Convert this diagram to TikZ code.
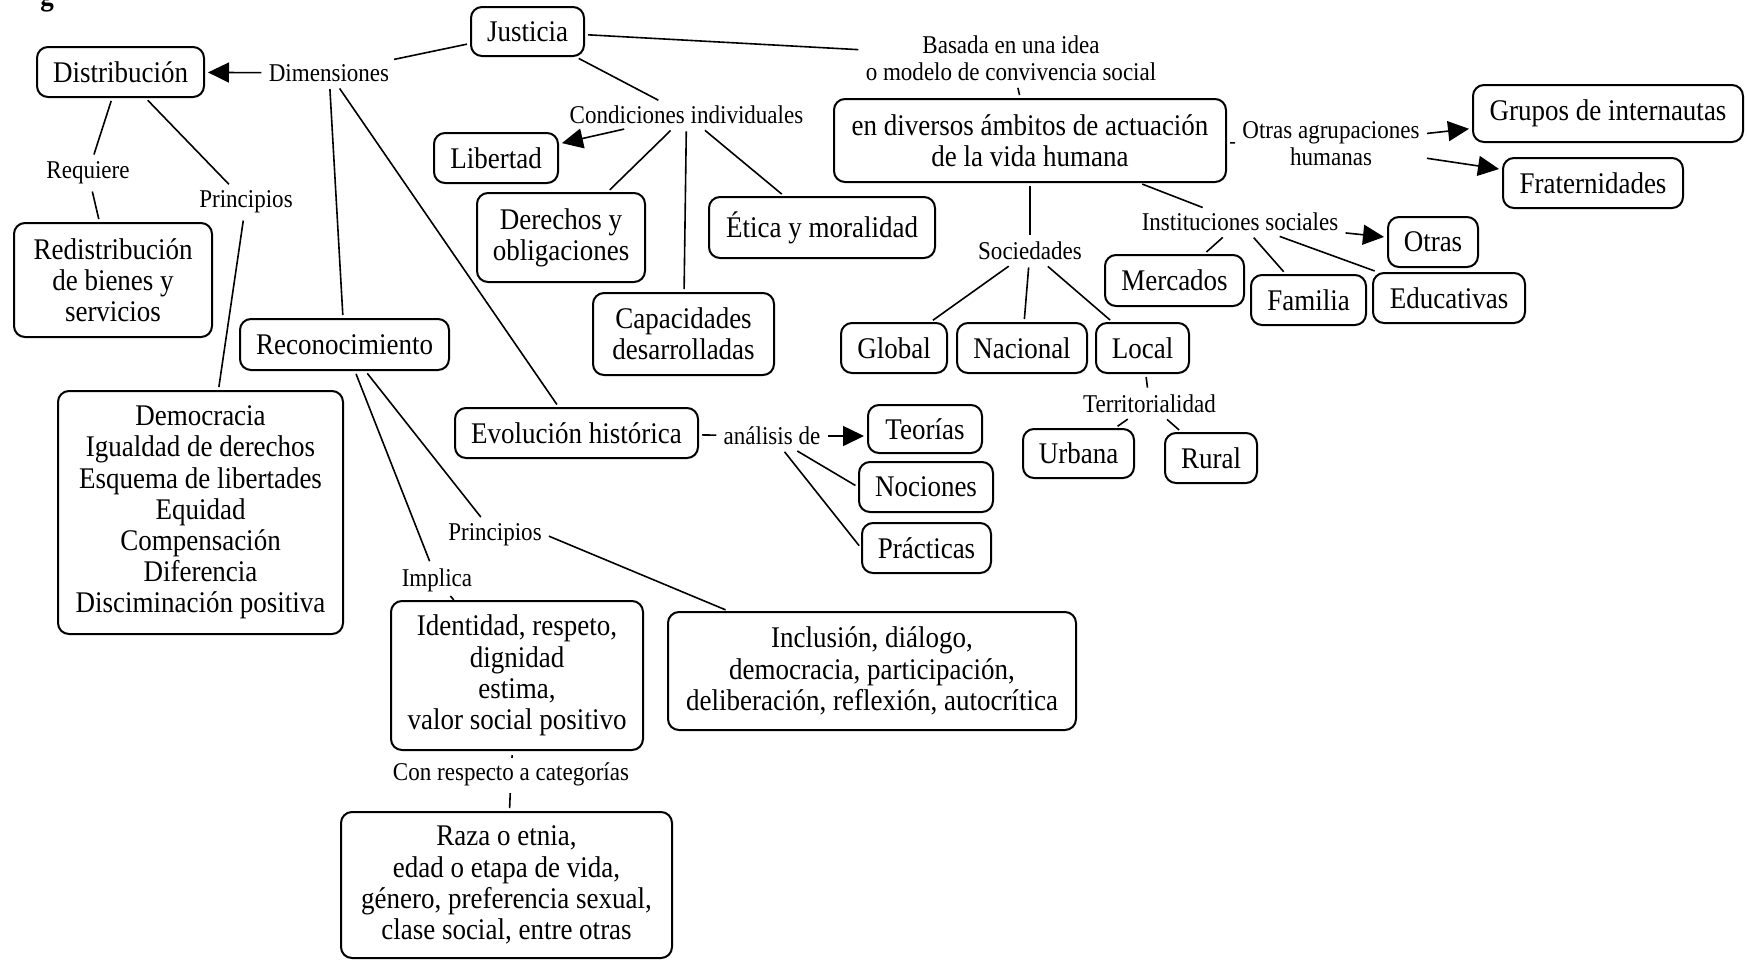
\documentclass[tikz,border=0pt]{standalone}
\usepackage{fontspec}
\setmainfont{Liberation Serif}[FakeStretch=0.9]
\usetikzlibrary{arrows.meta}
\tikzset{
  box/.style={draw, line width=1pt, rounded corners=5.5pt, align=center,
    inner sep=2pt, font=\fontsize{15}{15.6}\selectfont},
  lbl/.style={inner sep=2pt, align=center, font=\fontsize{12.8}{13.5}\selectfont},
  link/.style={line width=0.8pt, shorten <=1.5pt, shorten >=1.5pt},
  tick/.style={line width=0.8pt},
  arr/.style={link, -{Triangle[length=10.5pt,width=10pt]}},
}
% box given by its name, top-left and bottom-right corners, and its text
\newcommand\mapbox[6]{%
  \node[box, minimum width={(#4-#2)*0.5pt}, minimum height={(#5-#3)*0.5pt}]
    (#1) at ({(#2+#4)/2},{(#3+#5)/2}) {#6};}
\begin{document}
\begin{tikzpicture}[x=0.5pt, y=-0.5pt]
\useasboundingbox (0,0) rectangle (1747,960);
\clip (0,0) rectangle (1747,960);

% caption remnant at the upper edge
\node[anchor=base west, inner sep=0, font=\fontsize{15}{18}\bfseries] (cap0) at (40,5) {g};

% concept boxes
\mapbox{just}{471}{7}{584}{56}{Justicia}
\mapbox{dist}{37}{47}{204}{97}{Distribución}
\mapbox{redis}{14}{223}{212}{337}{Redistribución\\de bienes y\\servicios}
\mapbox{demo}{58}{391}{343}{634}{Democracia\\Igualdad de derechos\\Esquema de libertades\\Equidad\\Compensación\\Diferencia\\Disciminación positiva}
\mapbox{recon}{240}{319}{449}{370}{Reconocimiento}
\mapbox{evo}{455}{408}{698}{458}{Evolución histórica}
\mapbox{teo}{868}{405}{982}{453}{Teorías}
\mapbox{noc}{859}{462}{993}{512}{Nociones}
\mapbox{prac}{862}{523}{991}{573}{Prácticas}
\mapbox{ident}{391}{601}{643}{750}{Identidad, respeto,\\dignidad\\estima,\\valor social positivo}
\mapbox{incl}{668}{612}{1076}{730}{Inclusión, diálogo,\\democracia, participación,\\deliberación, reflexión, autocrítica}
\mapbox{raza}{341}{812}{672}{958}{Raza o etnia,\\edad o etapa de vida,\\género, preferencia sexual,\\clase social, entre otras}
\mapbox{lib}{434}{133}{558}{183}{Libertad}
\mapbox{der}{477}{193}{645}{282}{Derechos y\\obligaciones}
\mapbox{capac}{593}{293}{774}{375}{Capacidades\\desarrolladas}
\mapbox{etica}{709}{197}{935}{258}{Ética y moralidad}
\mapbox{ambit}{834}{99}{1226}{182}{en diversos ámbitos de actuación\\de la vida humana}
\mapbox{grup}{1473}{85}{1743}{142}{Grupos de internautas}
\mapbox{frat}{1503}{158}{1683}{208}{Fraternidades}
\mapbox{otras}{1388}{217}{1478}{267}{Otras}
\mapbox{merc}{1105}{255}{1244}{306}{Mercados}
\mapbox{fam}{1251}{275}{1366}{325}{Familia}
\mapbox{edu}{1373}{273}{1525}{323}{Educativas}
\mapbox{glob}{841}{323}{947}{373}{Global}
\mapbox{nac}{957}{323}{1087}{373}{Nacional}
\mapbox{loc}{1096}{323}{1189}{373}{Local}
\mapbox{urb}{1023}{429}{1134}{478}{Urbana}
\mapbox{rur}{1165}{433}{1257}{483}{Rural}

% linking phrases
\node[lbl] (dims) at (329,73) {Dimensiones};
\node[lbl] (req) at (88,173) {Requiere};
\node[lbl] (princA) at (246,202) {Principios};
\node[lbl] (cond) at (686.5,115) {Condiciones individuales};
\node[lbl] (basada) at (1011,58) {Basada en una idea\\o modelo de convivencia social};
\node[lbl] (otrasag) at (1331,144) {Otras agrupaciones\\humanas};
\node[lbl] (soc) at (1030,251) {Sociedades};
\node[lbl] (inst) at (1240,222) {Instituciones sociales};
\node[lbl] (terr) at (1149.5,404) {Territorialidad};
\node[lbl] (anal) at (772,436) {análisis de};
\node[lbl] (princB) at (495,535) {Principios};
\node[lbl] (impl) at (437,580) {Implica};
\node[lbl] (conr) at (511,774) {Con respecto a categorías};

% connectors
\draw[arr] (dims) -- (dist);
\draw[link] (dims) -- (just);
\draw[link] (dist) -- (req);
\draw[link] (req) -- (redis);
\draw[link] (dist) -- (princA);
\draw[link] (princA) -- (demo);
\draw[link] (dims) -- (recon);
\draw[link] (dims) -- (evo);

\draw[link] (just) -- (cond);
\draw[arr] (cond) -- (lib);
\draw[link] (cond) -- (der);
\draw[link] (cond) -- (capac);
\draw[link] (cond) -- (etica);

\draw[link] (just) -- (basada);
\draw[link] (basada) -- (ambit);
\draw[link] (ambit) -- (otrasag);
\draw[arr] (otrasag) -- (grup);
\draw[arr] (otrasag) -- (frat);

\draw[link] (ambit) -- (soc);
\draw[link] (soc) -- (glob);
\draw[link] (soc) -- (nac);
\draw[link] (soc) -- (loc);
\draw[link] (loc) -- (terr);
\draw[link] (terr) -- (urb);
\draw[link] (terr) -- (rur);

\draw[link] (ambit) -- (inst);
\draw[arr] (inst) -- (otras);
\draw[link] (inst) -- (merc);
\draw[link] (inst) -- (fam);
\draw[link] (inst) -- (edu);

\draw[link] (evo) -- (anal);
\draw[arr] (anal.east) -- (anal.east -| teo.west);
\draw[link] (anal) -- (noc.west);
\draw[link] (anal) -- (prac.west);

\draw[link] (recon) -- (princB);
\draw[link] (recon) -- (impl);
\draw[link] (princB.east) -- (incl);
\draw[tick] (impl) -- (ident);
\draw[tick, shorten <=2pt] (ident) -- (conr);
\draw[link] (conr) -- (raza);
\end{tikzpicture}
\end{document}
